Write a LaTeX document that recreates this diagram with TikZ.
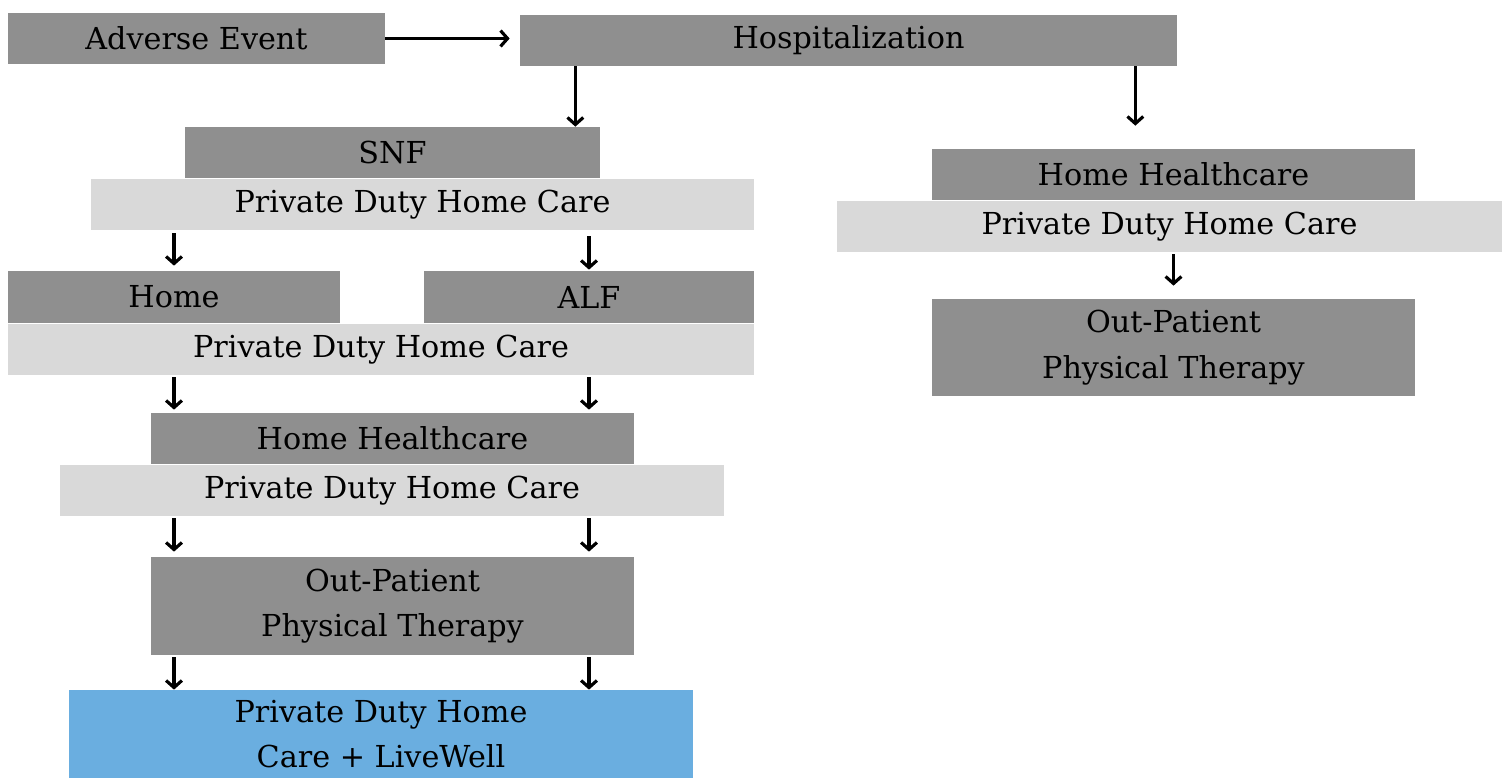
\documentclass[tikz,border=0pt]{standalone}
\usepackage{fontspec}
\setmainfont{DejaVu Serif}
\usetikzlibrary{positioning,arrows.meta,calc}
\definecolor{stepgray}{HTML}{8F8F8F}
\definecolor{caregray}{HTML}{D9D9D9}
\definecolor{livewell}{HTML}{6AAEE0}

\begin{document}
\begin{tikzpicture}[
  box/.style={fill=stepgray, inner sep=0pt, minimum height=1.02cm, align=center},
  care/.style={box, fill=caregray},
  arr/.style={line width=1.8pt, -{Straight Barb[length=4pt,width=9pt]}},
  every node/.style={font=\fontsize{17.2}{26}\selectfont}
]
  \useasboundingbox (0,0) rectangle (30.1,-15.56);

  % top row
  \node[box, minimum width=7.54cm] (adverse) at (3.93,-0.77) {Adverse Event};
  \node[box, minimum width=13.14cm] (hosp) at (16.97,-0.81) {Hospitalization};

  % left branch
  \node[box, minimum width=8.30cm] (snf) at (7.85,-3.05) {SNF};
  \node[care, minimum width=13.26cm] (pdhc1) at (8.45,-4.09) {Private Duty Home Care};
  \node[box, minimum width=6.64cm, minimum height=1.04cm] (home) at (3.48,-5.94) {Home};
  \node[box, minimum width=6.60cm, minimum height=1.04cm] (alf) at (11.78,-5.94) {ALF};
  \node[care, minimum width=14.92cm] (pdhc2) at (7.62,-6.99) {Private Duty Home Care};
  \node[box, minimum width=9.66cm] (hhc) at (7.85,-8.77) {Home Healthcare};
  \node[care, minimum width=13.28cm] (pdhc3) at (7.84,-9.81) {Private Duty Home Care};
  \node[box, minimum width=9.66cm, minimum height=1.96cm] (opt) at (7.85,-12.12) {Out-Patient\\Physical Therapy};
  \node[box, fill=livewell, minimum width=12.48cm, minimum height=1.76cm] (plus) at (7.62,-14.68) {Private Duty Home\\Care + LiveWell};

  % right branch
  \node[box, minimum width=9.66cm] (rhhc) at (23.47,-3.49) {Home Healthcare};
  \node[care, minimum width=13.30cm] (rpdhc) at (23.39,-4.53) {Private Duty Home Care};
  \node[box, minimum width=9.66cm, minimum height=1.94cm] (ropt) at (23.47,-6.95) {Out-Patient\\Physical Therapy};

  % connectors
  \draw[arr, shorten >=0.2cm] (adverse.east) -- (adverse.east -| hosp.west);
  \draw[arr] ([xshift=-0.5cm]snf.north east |- hosp.south) -- ([xshift=-0.5cm]snf.north east);
  \draw[arr, shorten >=0.46cm] ([xshift=-0.84cm]hosp.south east) -- ([xshift=-0.84cm]hosp.south east |- rhhc.north);
  \draw[arr, shorten <=0.06cm, shorten >=0.1cm] (home.north |- pdhc1.south) -- (home.north);
  \draw[arr, shorten <=0.12cm, shorten >=0.02cm] (alf.north |- pdhc1.south) -- (alf.north);
  \foreach \col in {home, alf} {
    \draw[arr, shorten <=0.04cm, shorten >=0.06cm] (\col.north |- pdhc2.south) -- (\col.north |- hhc.north);
    \draw[arr, shorten <=0.04cm, shorten >=0.1cm] (\col.north |- pdhc3.south) -- (\col.north |- opt.north);
    \draw[arr, shorten <=0.04cm] (\col.north |- opt.south) -- (\col.north |- plus.north);
  }
  \draw[arr, shorten <=0.04cm, shorten >=0.26cm] (rpdhc.south -| rhhc.north) -- (rhhc.north |- ropt.north);
\end{tikzpicture}
\end{document}
